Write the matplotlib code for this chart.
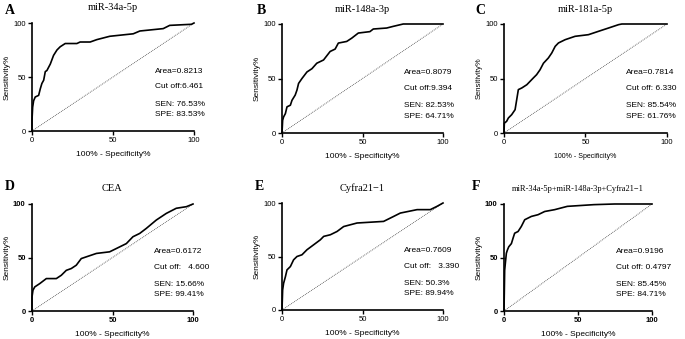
import numpy as np
import matplotlib
matplotlib.use("Agg")
import matplotlib.pyplot as plt

W, H = 685, 339

# ROC points (100% - specificity, sensitivity)
a_fpr = [0, 0, 0.4, 1.0, 2.0, 4.1, 5.1, 6.1, 7.2, 8.2, 9.2, 11.3, 13.3, 15.4, 17.4, 20.5, 27.7, 29.7, 35.9, 40, 48, 62.5, 66.6, 81, 85, 98.4, 100]
a_tpr = [0, 10, 22, 28, 31.5, 33, 39, 44, 47, 55, 56, 62, 70, 75, 78, 81, 81, 82.4, 82.4, 84.6, 87.7, 90, 92.6, 94.8, 97.8, 98.8, 100]

b_fpr = [0, 0.4, 1, 2.1, 3.1, 5.2, 6.2, 8.2, 9.3, 10.3, 12.4, 15.5, 18.6, 21.6, 25.8, 29.9, 33, 35, 40.2, 43.3, 47.4, 54.6, 56.7, 65, 69, 75.3, 100]
b_tpr = [0, 11.7, 14.8, 17.8, 24, 25.5, 30, 34.8, 39.4, 45.5, 50, 56, 59, 64, 67, 74.8, 77, 82.5, 84, 87, 91.7, 93, 95.4, 96.3, 97.8, 100, 100]

c_fpr = [0, 0.2, 1.6, 2.7, 4.7, 6.8, 7.8, 8.8, 10.9, 14, 16, 18, 20, 22.1, 24.2, 27.2, 29.3, 31.4, 33.4, 37.5, 43.6, 51.8, 58, 64.1, 70.3, 72.3, 100]
c_tpr = [0, 9, 10.7, 13.8, 16.8, 21.4, 30.6, 39.8, 41.3, 44.3, 47.4, 50.5, 53.5, 58, 64, 68.8, 73.4, 79.5, 82.6, 85.6, 88.7, 90.2, 93.3, 96.3, 99.4, 100, 100]

d_fpr = [0, 0, 0.6, 1.7, 4.8, 8.9, 15.1, 18.2, 21.3, 24.4, 27.5, 30.6, 33.7, 40, 48.2, 52.4, 58.6, 62.7, 66.9, 71, 77.2, 83.4, 89.6, 95.9, 100]
d_tpr = [0, 13, 19.4, 22.5, 25.6, 30.3, 30.3, 33.4, 38, 39.7, 42.8, 49, 50.6, 53.8, 55.3, 58.4, 63, 69.4, 72.5, 77.2, 85, 91.2, 96, 97.5, 100]

e_fpr = [0, 0.4, 1, 2.1, 3.1, 5.2, 7.2, 9.3, 12.4, 15.5, 19.7, 23.8, 25.9, 30, 34.2, 38.3, 46.6, 63.1, 69.4, 73.5, 83.9, 92.1, 96.3, 100]
e_tpr = [0, 18.8, 25, 31, 37.5, 40.6, 46.9, 50, 51.6, 56.3, 61, 65.6, 68.8, 70.3, 73.4, 78, 81.3, 82.8, 87.5, 90.6, 93.8, 93.8, 96.9, 100]

f_fpr = [0, 0.2, 0.45, 0.9, 1.6, 2.3, 3.2, 5, 6.1, 7.2, 9.5, 11.7, 14, 18.5, 23, 27.5, 34.2, 42.8, 60.8, 74.8, 100]
f_tpr = [0, 16.3, 38, 44.5, 54, 57, 60, 63, 68, 72.7, 74.3, 79, 85.3, 88.4, 90, 93, 94.7, 97.8, 99.4, 100, 100]

letters = ["A", "B", "C", "D", "E", "F"]
titles = ["miR-34a-5p", "miR-148a-3p", "miR-181a-5p", "CEA", "Cyfra21\u22121",
          "miR-34a-5p+miR-148a-3p+Cyfra21\u22121"]
areas = ["Area=0.8213", "Area=0.8079", "Area=0.7814", "Area=0.6172", "Area=0.7609", "Area=0.9196"]
cutoffs = ["Cut off:6.461", "Cut off:9.394", "Cut off: 6.330", "Cut off:   4.600", "Cut off:   3.390", "Cut off: 0.4797"]
sens = ["SEN: 76.53%", "SEN: 82.53%", "SEN: 85.54%", "SEN: 15.66%", "SEN: 50.3%", "SEN: 85.45%"]
spes = ["SPE: 83.53%", "SPE: 64.71%", "SPE: 61.76%", "SPE: 99.41%", "SPE: 89.94%", "SPE: 84.71%"]
curves = [(a_fpr, a_tpr), (b_fpr, b_tpr), (c_fpr, c_tpr), (d_fpr, d_tpr), (e_fpr, e_tpr), (f_fpr, f_tpr)]

# axes boxes in pixels: left, top, right, bottom
boxes = [(32, 23, 194, 131), (282, 24, 443, 133), (504, 24, 667, 133),
         (32, 204, 193, 311), (282, 203, 443, 310), (504, 204, 652, 311)]
letter_pos = [(5, 10), (257, 10), (475, 10), (5, 186), (255, 186), (472, 187)]
bold_ticks = [False, False, False, True, False, True]

fig = plt.figure(figsize=(W / 100, H / 100), dpi=100)

for i in range(6):
    l, t, r, b = boxes[i]
    ax = fig.add_axes([l / W, 1 - b / H, (r - l) / W, (b - t) / H])
    x, y = curves[i]
    ax.plot([0, 100], [0, 100], color="#444444", lw=0.6, ls=(0, (1, 1.2)))
    ax.plot(x, y, color="black", lw=1.2, clip_on=False)
    ax.set_xlim(0, 100)
    ax.set_ylim(0, 100)
    ax.set_xticks([0, 50, 100])
    ax.set_yticks([0, 50, 100])
    for s in ["top", "right"]:
        ax.spines[s].set_visible(False)
    for s in ["left", "bottom"]:
        ax.spines[s].set_linewidth(1.2)
    wt = "bold" if bold_ticks[i] else "normal"
    ax.tick_params(direction="out", length=3, width=1, pad=1.5, labelsize=5.5)
    for lab in ax.get_xticklabels() + ax.get_yticklabels():
        lab.set_family("Liberation Sans")
        lab.set_fontweight(wt)
    xs = 5 if i == 2 else 6
    ax.set_xlabel("100% - Specificity%", family="Liberation Sans", fontsize=xs, labelpad=5)
    ax.set_ylabel("Sensitivity%", family="Liberation Sans", fontsize=5.5 if i == 2 else 6, labelpad=2)
    tx = 0.76 if i != 2 else 0.75
    for txt, ty in zip([areas[i], cutoffs[i], sens[i], spes[i]], [0.555, 0.41, 0.25, 0.15]):
        ax.text(tx, ty, txt, transform=ax.transAxes, family="Liberation Sans",
                fontsize=6, va="center", ha="left", clip_on=False)
    ts = 6 if i == 5 else 7.5
    ax.text(0.5, 1 + 15 / (b - t), titles[i], transform=ax.transAxes, ha="center", va="center",
            family="Liberation Serif", fontsize=ts)
    lx, ly = letter_pos[i]
    fig.text(lx / W, 1 - ly / H, letters[i], family="Liberation Serif", fontweight="bold",
             fontsize=10, ha="left", va="center")

fig.savefig("out.png", dpi=100)
